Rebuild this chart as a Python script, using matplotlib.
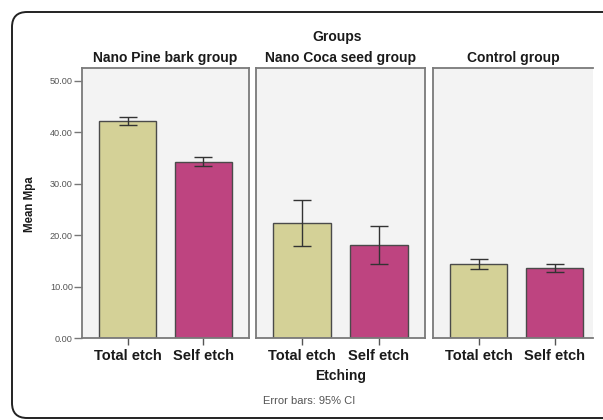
import numpy as np
import matplotlib.pyplot as plt
from matplotlib.patches import FancyBboxPatch

plt.rcParams['font.family'] = ['Liberation Sans', 'DejaVu Sans']

# data (mean and 95% CI half width)
groups = ['Nano Pine bark group', 'Nano Coca seed group', 'Control group']
etching = ['Total etch', 'Self etch']
means = [[42.2, 34.3], [22.4, 18.0], [14.4, 13.6]]
ci = [[0.8, 0.8], [4.5, 3.7], [0.9, 0.8]]

bar_colors = ['#d4d197', '#be4480']
panel_bg = '#f3f3f3'
frame_col = '#7a7a7a'

fig = plt.figure(figsize=(6.03, 4.2), dpi=100)

# outer rounded frame (right side cut off like the source)
frame = FancyBboxPatch((12 / 603, 2 / 420), 1.1, 406 / 420,
                       boxstyle='round,pad=0,rounding_size=0.025',
                       mutation_aspect=603 / 420,
                       transform=fig.transFigure, fill=False,
                       edgecolor='#222222', linewidth=1.4, clip_on=False)
fig.patches.append(frame)

lefts = [82, 256, 433]
widths = [167, 169, 160]
xlims = [(-0.6, 1.6), (-0.6, 1.6), (-0.6, 1.5)]
bottom = 1 - 338 / 420
height = 270 / 420

for i, g in enumerate(groups):
    ax = fig.add_axes([lefts[i] / 603, bottom, widths[i] / 603, height])
    ax.set_facecolor(panel_bg)
    x = np.arange(len(etching))
    ax.bar(x, means[i], width=0.75, color=bar_colors,
           edgecolor='#4a4a4a', linewidth=1.0, zorder=2)
    ax.errorbar(x, means[i], yerr=ci[i], fmt='none', ecolor='#333333',
                elinewidth=1.0, capsize=6.8, capthick=1.0, zorder=3)
    ax.set_xlim(*xlims[i])
    ax.set_ylim(0, 52.5)
    ax.set_xticks(x)
    ax.set_xticklabels(etching, fontsize=10.5, fontweight='bold', color='#1a1a1a')
    ax.tick_params(axis='x', length=5, width=1, color='#555555', pad=3)
    for s in ax.spines.values():
        s.set_color(frame_col)
        s.set_linewidth(1.3)
    if i == 2:
        ax.spines['right'].set_visible(False)
    if i == 0:
        ax.set_yticks([0, 10, 20, 30, 40, 50])
        ax.set_yticklabels(['%.2f' % v for v in [0, 10, 20, 30, 40, 50]],
                           fontsize=6.6, color='#555555')
        ax.tick_params(axis='y', length=6, width=1, color='#777777', pad=0.5)
    else:
        ax.set_yticks([])
    ax.set_title(g, fontsize=10, fontweight='bold', color='#1a1a1a', pad=4)

fig.text(337 / 603, 1 - 37 / 420, 'Groups', ha='center', va='center',
         fontsize=10, fontweight='bold', color='#1a1a1a')
fig.text(30 / 603, 1 - 204 / 420, 'Mean Mpa', ha='center', va='center',
         rotation=90, fontsize=8.3, fontweight='bold', color='#1a1a1a')
fig.text(341 / 603, 1 - 376 / 420, 'Etching', ha='center', va='center',
         fontsize=10, fontweight='bold', color='#1a1a1a')
fig.text(309 / 603, 1 - 401 / 420, 'Error bars: 95% CI', ha='center', va='center',
         fontsize=8, color='#555555')

fig.savefig('out.png', dpi=100)
